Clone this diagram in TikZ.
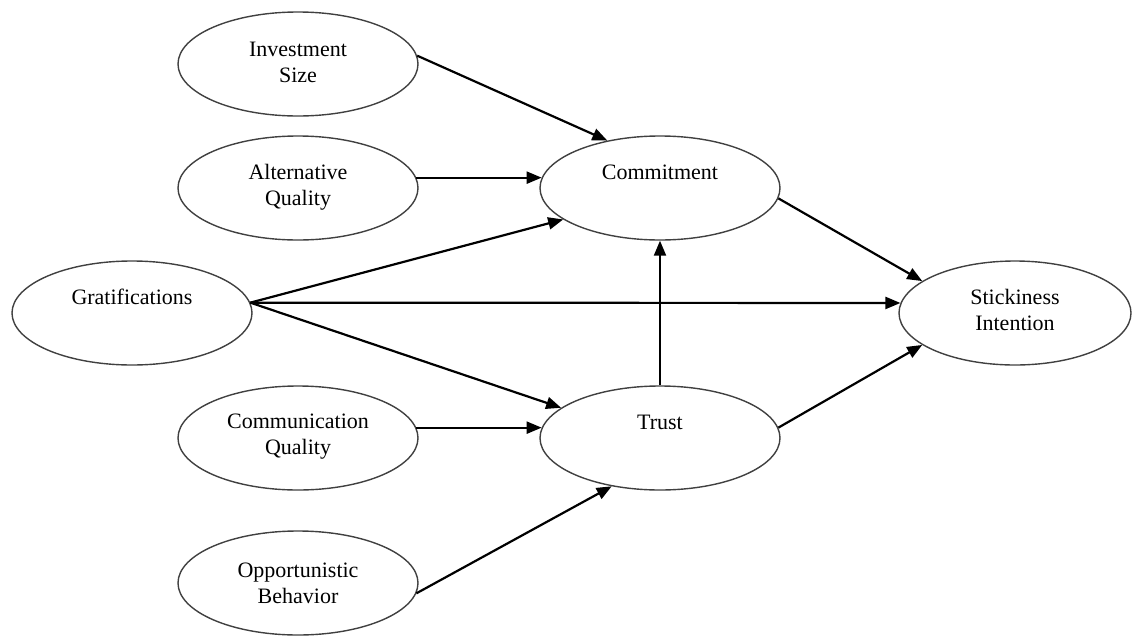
\documentclass[tikz,border=0pt]{standalone}
\usepackage{fontspec}
\setmainfont{Liberation Serif}
\usetikzlibrary{shapes.geometric,arrows.meta}
\begin{document}
\begin{tikzpicture}[x=1pt,y=-1pt,
  ell/.style={ellipse, draw=black!75, line width=1.4pt, minimum width=240pt, minimum height=104pt, inner sep=0pt},
  lbl/.style={font=\fontsize{22}{26}\selectfont, align=center, inner sep=0pt},
  arr/.style={line width=2.2pt, -{Triangle[length=15pt,width=12pt]}}]
\useasboundingbox (0,0) rectangle (1133,635);
% ellipses
\node[ell] (inv)   at (298,64)  {};
\node[ell] (alt)   at (298,188) {};
\node[ell] (grat)  at (132,313) {};
\node[ell] (comm)  at (298,438) {};
\node[ell] (opp)   at (298,583) {};
\node[ell] (com)   at (660,188) {};
\node[ell] (trust) at (660,438) {};
\node[ell, minimum width=232pt] (stick) at (1015,313) {};
% labels
\node[lbl] (invT)   at (298,62)  {Investment\\Size};
\node[lbl] (altT)   at (298,187) {Alternative\\Quality};
\node[lbl] (gratT)  at (132,297) {Gratifications};
\node[lbl] (commT)  at (298,437) {Communication\\Quality};
\node[lbl] (oppT)   at (298,583) {Opportunistic\\Behavior};
\node[lbl] (comT)   at (660,172) {Commitment};
\node[lbl] (trustT) at (660,422) {Trust};
\node[lbl] (stickT) at (1015,310) {Stickiness\\Intention};
% connectors
\draw[arr] (inv.4) -- (com.138);
\draw[arr] (alt.5) -- (com.175);
\draw[arr] (grat.5) -- (com.198);
\draw[arr] (grat.5) -- (stick.175);
\draw[arr] (grat.5) -- (trust.163);
\draw[arr] (comm.5) -- (trust.175);
\draw[arr] (opp.-5) -- (trust.225);
\draw[arr] (trust.north) -- (com.south);
\draw[arr] (com.-5) -- (stick.161);
\draw[arr] (trust.5) -- (stick.199);
\end{tikzpicture}
\end{document}
